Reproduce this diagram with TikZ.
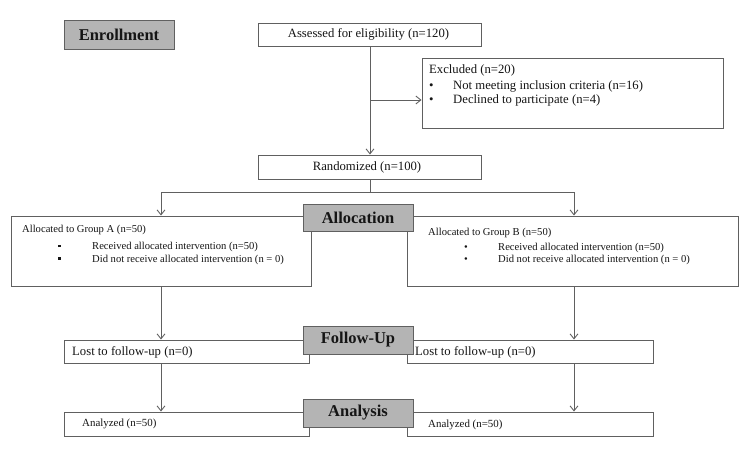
\documentclass[tikz,border=0pt]{standalone}
\usepackage{fontspec}
\setmainfont{Liberation Serif}
\usetikzlibrary{arrows.meta,positioning}
\definecolor{lnc}{HTML}{606060}
\definecolor{hdrfill}{HTML}{B4B4B4}
\definecolor{txc}{HTML}{151515}
\begin{document}
\begin{tikzpicture}[x=1pt,y=-1pt,
  wbox/.style={draw=lnc,line width=0.9pt,fill=white,inner sep=0pt},
  hdr/.style={draw=lnc,line width=0.9pt,fill=hdrfill,inner sep=0pt,text=txc,font=\fontsize{16.5}{18}\selectfont\bfseries},
  conn/.style={draw=lnc,line width=0.9pt},
  arr/.style={conn,-{Straight Barb[length=5pt,width=8pt]}},
  big/.style={inner sep=0pt,text=txc,font=\fontsize{12.7}{15}\selectfont},
  mid/.style={inner sep=0pt,text=txc,font=\fontsize{10.6}{13}\selectfont},
  sml/.style={inner sep=0pt,text=txc,font=\fontsize{10.9}{13}\selectfont}]
\useasboundingbox (0,0) rectangle (750,452);

% white boxes
\node[wbox,minimum width=223pt,minimum height=23pt] (assess) at (369.5,34.5) {};
\node[big] (assesst) at (368.5,34.5) {Assessed for eligibility (n=120)};
\node[wbox,minimum width=301pt,minimum height=70pt] (excl) at (572.5,93) {};
\node[big,anchor=west] (ex1) at (429,70) {Excluded (n=20)};
\node[big,anchor=west] (ex2) at (429,86) {\makebox[24pt][l]{•}Not meeting inclusion criteria (n=16)};
\node[big,anchor=west] (ex3) at (429,100.5) {\makebox[24pt][l]{•}Declined to participate (n=4)};

\node[wbox,minimum width=223pt,minimum height=24pt] (rand) at (369.5,167) {};
\node[big] (randt) at (367,167) {Randomized (n=100)};

\node[wbox,minimum width=300pt,minimum height=70pt] (gA) at (161,251) {};
\node[mid,anchor=west] (ga1) at (22,229.5) {Allocated to Group A (n=50)};
\node[mid,anchor=west] (ga2) at (58,247) {\makebox[34pt][l]{\raisebox{0.22em}{\rule{2.4pt}{2.4pt}}}Received allocated intervention (n=50)};
\node[mid,anchor=west] (ga3) at (58,259.5) {\makebox[34pt][l]{\raisebox{0.22em}{\rule{2.4pt}{2.4pt}}}Did not receive allocated intervention (n = 0)};

\node[wbox,minimum width=331pt,minimum height=70pt] (gB) at (572.5,251) {};
\node[mid,anchor=west] (gb1) at (428,233) {Allocated to Group B (n=50)};
\node[mid,anchor=west] (gb2) at (464,247.5) {\makebox[34pt][l]{•}Received allocated intervention (n=50)};
\node[mid,anchor=west] (gb3) at (464,260) {\makebox[34pt][l]{•}Did not receive allocated intervention (n = 0)};

\node[wbox,minimum width=245pt,minimum height=23pt] (lostA) at (186.5,351.5) {};
\node[big,anchor=west] (lostAt) at (72,352) {Lost to follow-up (n=0)};
\node[wbox,minimum width=246pt,minimum height=23pt] (lostB) at (530,351.5) {};
\node[big,anchor=west] (lostBt) at (415,352) {Lost to follow-up (n=0)};

\node[wbox,minimum width=245pt,minimum height=24pt] (anA) at (186.5,424) {};
\node[sml,anchor=west] (anAt) at (82,423.5) {Analyzed (n=50)};
\node[wbox,minimum width=246pt,minimum height=24pt] (anB) at (530,424) {};
\node[sml,anchor=west] (anBt) at (428,425) {Analyzed (n=50)};

% connectors
\coordinate (br) at (370,100);
\coordinate (sp) at (370,192);
\coordinate (jL) at (161,192);
\coordinate (jR) at (574,192);
\draw[arr] (assess.south -| br) -- (rand.north -| br);
\draw[arr] (br) -- (br -| excl.west);
\draw[conn] (rand.south -| sp) -- (sp);
\draw[arr] (sp) -- (jL) -- (gA.north -| jL);
\draw[arr] (sp) -- (jR) -- (gB.north -| jR);
\draw[arr] (gA.south -| jL) -- (lostA.north -| jL);
\draw[arr] (lostA.south -| jL) -- (anA.north -| jL);
\draw[arr] (gB.south -| jR) -- (lostB.north -| jR);
\draw[arr] (lostB.south -| jR) -- (anB.north -| jR);

% header boxes
\node[hdr,minimum width=110pt,minimum height=29pt] (enr) at (119,34.5) {Enrollment};
\node[hdr,minimum width=110pt,minimum height=27pt] (alloc) at (358,217.5) {Allocation};
\node[hdr,minimum width=110pt,minimum height=28pt] (fol) at (358,340) {Follow-Up};
\node[hdr,minimum width=110pt,minimum height=28pt] (ana) at (358,413) {Analysis};
\end{tikzpicture}
\end{document}
